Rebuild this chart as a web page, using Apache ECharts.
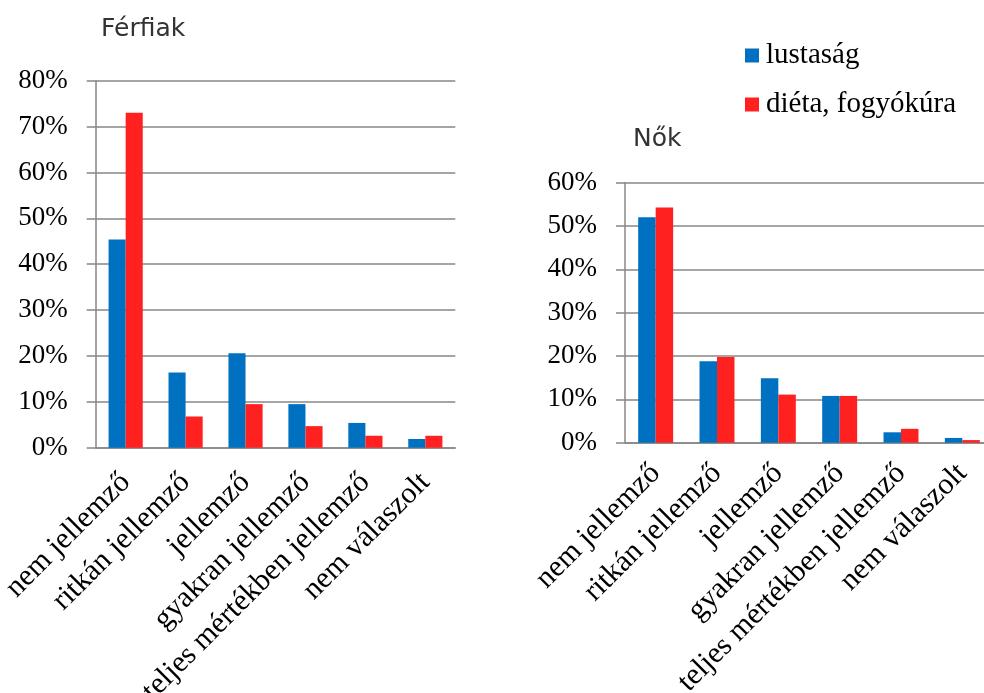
<!DOCTYPE html>
<html>
<head>
<meta charset="utf-8">
<script src="https://cdn.jsdelivr.net/npm/echarts@6/dist/echarts.min.js"></script>
<style>
html,body{margin:0;padding:0;background:#fff;}
#chart{width:984px;height:693px;}
</style>
</head>
<body>
<div id="chart"></div>
<script>
const categories = ['nem jellemző','ritkán jellemző','jellemző','gyakran jellemző','teljes mértékben jellemző','nem válaszolt'];
const seriesNames = ['lustaság','diéta, fogyókúra'];
const ferfiLustasag = [45.4, 16.4, 20.6, 9.5, 5.4, 1.9];
const ferfiDieta = [73.0, 6.8, 9.5, 4.7, 2.6, 2.6];
const noLustasag = [52.0, 18.8, 14.9, 10.8, 2.4, 1.1];
const noDieta = [54.3, 19.8, 11.1, 10.8, 3.2, 0.6];
const titles = ['Férfiak','Nők'];

const BLUE = '#0070C0', RED = '#FF2020', GRAY = '#878787';
const serif = 'Liberation Serif, Times New Roman, serif';

function xAx(gi, margin){
  return {
    type:'category', gridIndex:gi, data:categories,
    axisLine:{lineStyle:{color:GRAY,width:1.5}},
    axisTick:{length:8,lineStyle:{color:GRAY,width:1.5}},
    axisLabel:{rotate:45,interval:0,margin:margin,
      color:'#000',fontFamily:serif,fontSize:30}
  };
}
function yAx(gi,max){
  return {
    type:'value', gridIndex:gi, min:0, max:max, interval:10,
    axisLine:{show:true,lineStyle:{color:GRAY,width:1.5}},
    axisTick:{show:true,length:9,lineStyle:{color:GRAY,width:1.5}},
    splitLine:{lineStyle:{color:GRAY,width:1.5}},
    axisLabel:{margin:28,color:'#000',fontFamily:serif,fontSize:27,formatter:'{value}%'}
  };
}
function bar(name,data,gi,color){
  return {name:name,type:'bar',xAxisIndex:gi,yAxisIndex:gi,data:data,
    barGap:'0%',barCategoryGap:'43%',itemStyle:{color:color},animation:false};
}

const chart = echarts.init(document.getElementById('chart'));
chart.setOption({
  animation:false,
  title:[
    {text:titles[0],left:96,top:12,textStyle:{fontFamily:'DejaVu Sans',fontSize:25,fontWeight:'normal',color:'#333'}},
    {text:titles[1],left:628,top:122,textStyle:{fontFamily:'DejaVu Sans',fontSize:25,fontWeight:'normal',color:'#333'}}
  ],
  legend:{
    orient:'vertical', left:740, top:36, itemWidth:14, itemHeight:14, itemGap:20,
    icon:'rect', data:seriesNames,
    textStyle:{fontFamily:serif,fontSize:29,color:'#000',padding:[0,0,0,2]}
  },
  grid:[
    {left:95.7, top:80.7, width:359.6, height:367, outerBoundsMode:'none', containLabel:false},
    {left:625, top:182.7, width:368, height:260, outerBoundsMode:'none', containLabel:false}
  ],
  xAxis:[xAx(0,30),xAx(1,26)],
  yAxis:[yAx(0,80),yAx(1,60)],
  series:[
    bar(seriesNames[0],ferfiLustasag,0,BLUE),
    bar(seriesNames[1],ferfiDieta,0,RED),
    bar(seriesNames[0],noLustasag,1,BLUE),
    bar(seriesNames[1],noDieta,1,RED)
  ]
});
</script>
</body>
</html>
